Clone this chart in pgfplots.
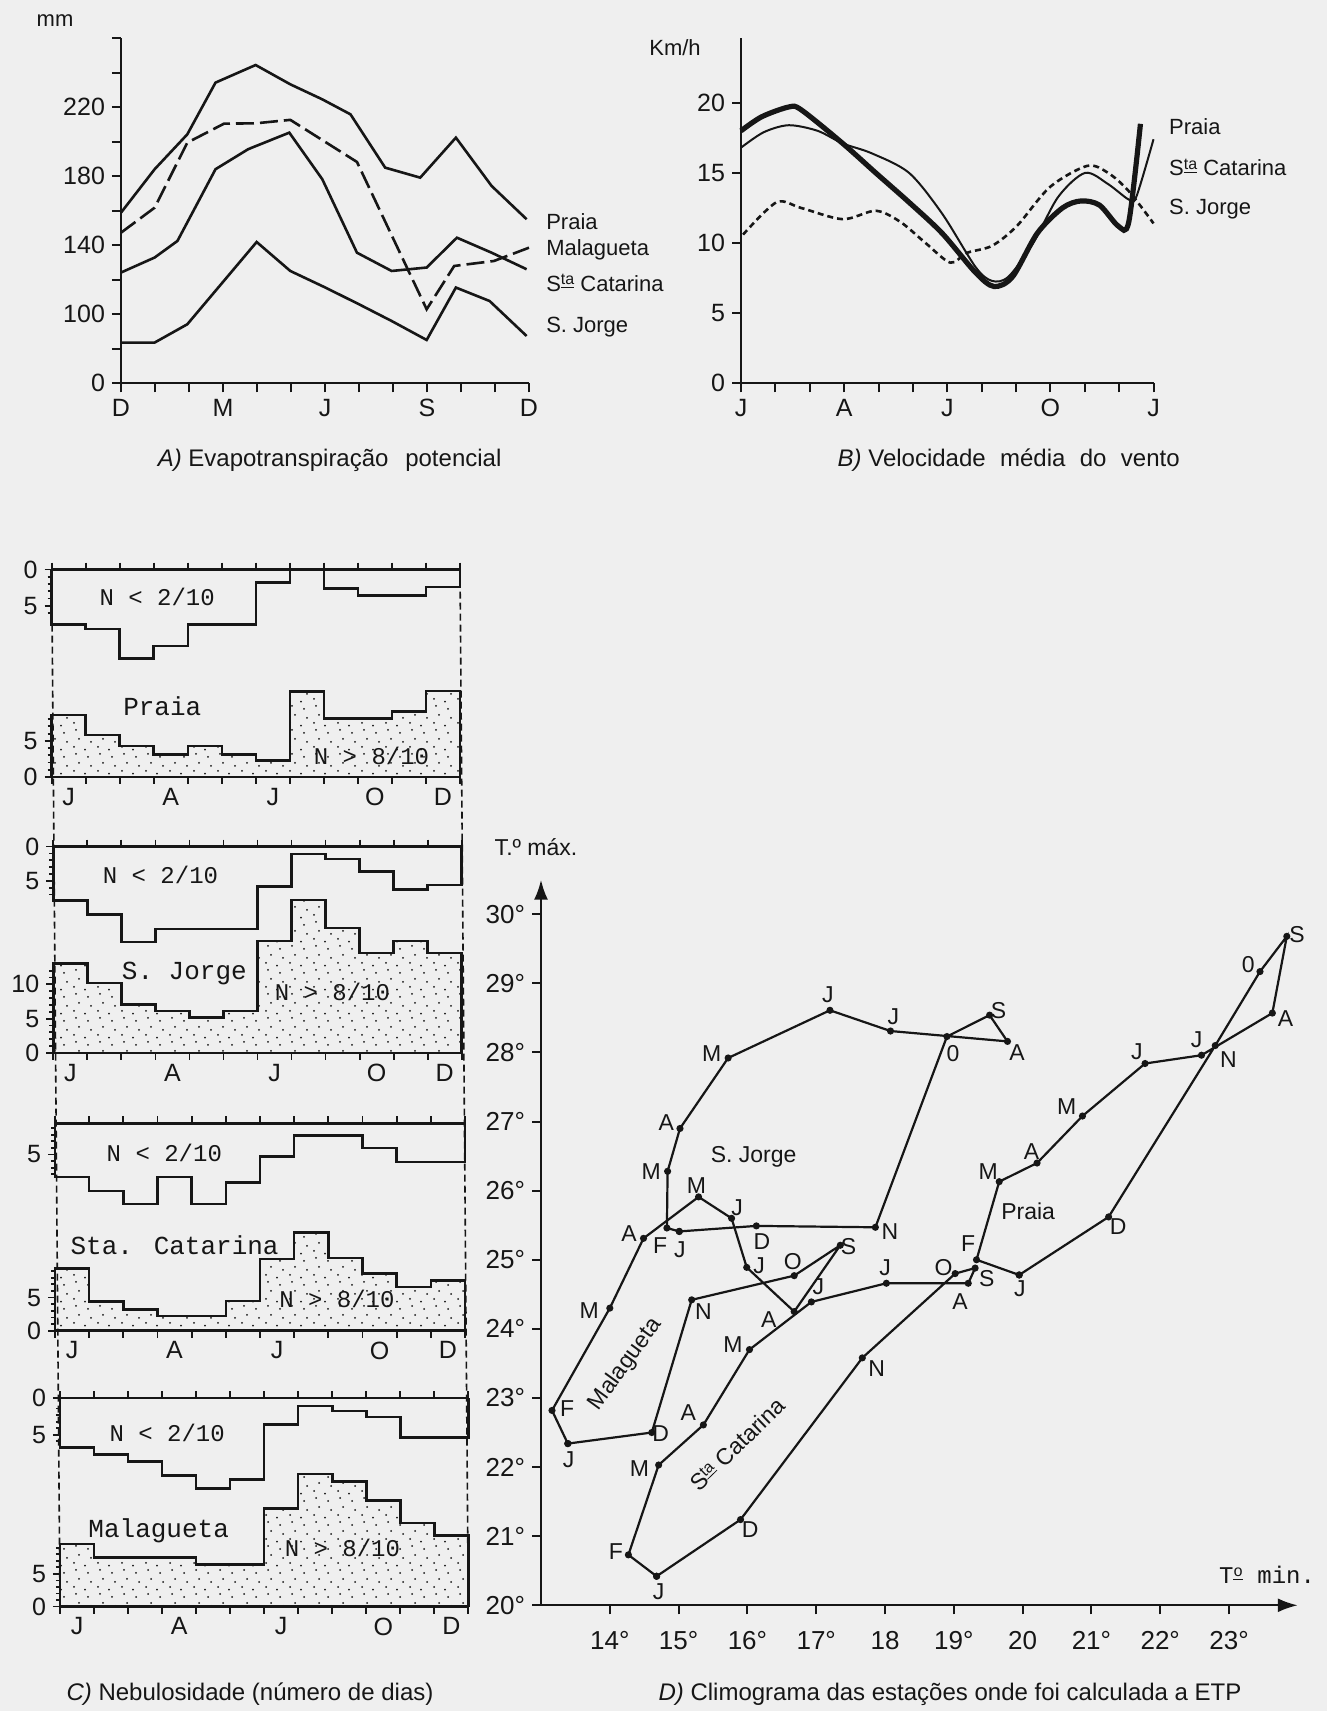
\documentclass[border=0pt]{standalone}
\usepackage{pgfplots}
\pgfplotsset{compat=1.18}
\usepackage{fontspec}
\setmainfont{Liberation Sans}
\newfontfamily\cour{Liberation Mono}
\usetikzlibrary{arrows.meta,patterns}
\definecolor{paper}{RGB}{239,239,239}
\definecolor{ink}{RGB}{22,22,22}

\pgfdeclarepatternformonly{stipple}{\pgfqpoint{-1pt}{-1pt}}{\pgfqpoint{13pt}{13pt}}{\pgfqpoint{12pt}{12pt}}{
  \pgfpathcircle{\pgfqpoint{1pt}{2pt}}{0.5pt}
  \pgfpathcircle{\pgfqpoint{6.5pt}{0.7pt}}{0.5pt}
  \pgfpathcircle{\pgfqpoint{9.5pt}{4.5pt}}{0.5pt}
  \pgfpathcircle{\pgfqpoint{3.5pt}{6pt}}{0.5pt}
  \pgfpathcircle{\pgfqpoint{8pt}{9pt}}{0.5pt}
  \pgfpathcircle{\pgfqpoint{2pt}{10.5pt}}{0.5pt}
  \pgfusepath{fill}
}

\newcommand{\lab}{\fontsize{11}{13}\selectfont}
\newcommand{\tkf}{\fontsize{12.5}{14}\selectfont}
\newcommand{\capf}{\fontsize{12}{14}\selectfont}
\newcommand{\sta}{S\raisebox{0.55ex}{\underline{\fontsize{8}{9}\selectfont ta}}}
\newcommand{\mL}[3]{\node[font=\fontsize{11.5}{12}\selectfont, inner sep=0pt, text=ink] at (axis cs:#1,#2) {#3};}

\pgfplotsset{
  ab/.style={anchor=south west, scale only axis, axis lines=left,
    axis line style={-, line width=1.2pt, ink}, tick align=outside,
    major tick length=4.5pt, tick style={line width=1pt, ink},
    tick label style={font=\tkf, text=ink}, clip=false, enlargelimits=false,
    xmin=0, xmax=12, xtick={0,...,12}, /pgf/number format/assume math mode=true},
  strip/.style={anchor=south west, scale only axis, xmin=0, xmax=12, ymin=0,
    enlargelimits=false, clip=false, separate axis lines,
    every outer x axis line/.append style={line width=1.3pt, ink},
    every outer y axis line/.append style={draw=none},
    xtick={0,...,12}, xticklabels={}, xtick pos=both, ytick pos=left,
    tick align=outside, major tick length=3.5pt, tick style={line width=0.9pt, ink},
    extra x ticks={0.5,3.5,6.5,9.5,11.5}, extra x tick labels={J,A,J,O,D},
    extra x tick style={major tick length=0pt, tick label style={yshift=-2pt}},
    extra y tick style={major tick length=2pt, ytick pos=left},
    extra y tick labels={},
    tick label style={font=\tkf, text=ink}, /pgf/number format/assume math mode=true},
  up/.style={ink, line width=1.3pt, const plot},
  low/.style={ink, line width=1.3pt, const plot, pattern=stipple, pattern color=ink}
}

\begin{document}
\begin{tikzpicture}
\useasboundingbox (0,0) rectangle (663.5pt,855.5pt);
\fill[paper] (0,0) rectangle (663.5pt,855.5pt);

% ---------------- Panel A
\begin{axis}[ab, at={(60.5pt,663.85pt)}, width=204pt, height=172.5pt, ymin=60, ymax=260,
  xticklabels={D,,,M,,,J,,,S,,,D}, ytick={60,80,...,260}, yticklabels={0,,100,,140,,180,,220,,}]
\addplot[ink, line width=1.3pt] coordinates {(0,158.9)(0.99,184.1)(1.95,204.3)(2.78,234.3)(3.96,244.5)(4.98,233.3)(5.92,224.6)(6.75,215.9)(7.77,185)(8.8,179.2)(9.85,202.4)(10.9,174.4)(11.93,155.1)};
\addplot[ink, line width=1.3pt, dash pattern=on 9pt off 3pt] coordinates {(0,147.3)(0.99,161.8)(1.95,199.5)(3.03,210.5)(3.96,210.7)(4.98,212.7)(6.94,188.3)(8.99,102.9)(9.8,128)(10.97,130.9)(12,138.6)};
\addplot[ink, line width=1.3pt] coordinates {(0,124.2)(0.99,132.9)(1.66,142.5)(2.78,184.1)(3.74,195.7)(4.95,205.3)(5.92,178.3)(6.94,135.7)(7.96,125.1)(8.99,127.1)(9.88,144.4)(10.9,135.7)(11.93,126.1)};
\addplot[ink, line width=1.3pt] coordinates {(0,83.6)(0.99,83.6)(1.95,94.2)(3.99,141.9)(4.98,125.1)(6.01,115.5)(7.0,105.8)(7.96,96.1)(8.99,85.1)(9.85,115.5)(10.84,107.7)(11.93,87.4)};
\node[anchor=west, font=\lab, text=ink] at (axis cs:12.3,153.7) {Praia};
\node[anchor=west, font=\lab, text=ink] at (axis cs:12.3,137.3) {Malagueta};
\node[anchor=west, font=\lab, text=ink] at (axis cs:12.3,118.1) {\sta\ Catarina};
\node[anchor=west, font=\lab, text=ink] at (axis cs:12.3,92.8) {S. Jorge};
\end{axis}
\node[font=\lab, text=ink] at (27.5pt,845pt) {mm};
\node[font=\capf, text=ink] at (164.8pt,625.5pt) {\textit{A)} Evapotranspiração\hspace{0.7em}potencial};

% ---------------- Panel B
\begin{axis}[ab, at={(370.5pt,663.85pt)}, width=206.25pt, height=172.5pt, ymin=0, ymax=24.6,
  xticklabels={J,,,A,,,J,,,O,,,J}, ytick={0,5,10,15,20}, yticklabels={0,5,10,15,20}]
\addplot[ink, line width=2.6pt, smooth, tension=0.5] coordinates {(0,18.0)(0.6,19.0)(1.39,19.7)(1.75,19.5)(2.96,17.1)(3.92,15.0)(4.89,12.9)(5.85,10.7)(6.82,7.9)(7.36,6.9)(7.9,7.6)(8.62,10.7)(9.35,12.5)(9.89,13.0)(10.43,12.7)(10.98,11.2)(11.28,11.5)(11.62,18.5)};
\addplot[ink, line width=1.0pt, smooth, tension=0.5] coordinates {(0,16.8)(0.66,17.9)(1.39,18.4)(2.23,18.0)(2.96,17.1)(3.8,16.4)(4.89,15.0)(5.85,12.1)(6.82,8.3)(7.3,7.3)(7.78,7.6)(8.5,10.0)(9.23,13.3)(10.01,15.0)(10.68,14.2)(11.28,13.1)(11.5,13.3)(12,17.4)};
\addplot[ink, line width=1.3pt, smooth, tension=0.5, dash pattern=on 3pt off 2pt] coordinates {(0.06,10.6)(1.03,12.9)(1.75,12.5)(2.96,11.7)(3.92,12.3)(4.64,11.5)(5.37,10.0)(6.09,8.6)(6.57,9.3)(7.3,9.8)(8.02,11.2)(8.99,14.0)(10.07,15.5)(10.68,15.0)(11.28,13.7)(12,11.4)};
\node[anchor=west, font=\lab, text=ink] at (axis cs:12.25,18.3) {Praia};
\node[anchor=west, font=\lab, text=ink] at (axis cs:12.25,15.4) {\sta\ Catarina};
\node[anchor=west, font=\lab, text=ink] at (axis cs:12.25,12.4) {S. Jorge};
\end{axis}
\node[font=\lab, text=ink] at (337.5pt,831.5pt) {Km/h};
\node[font=\capf, text=ink] at (504.35pt,625.5pt) {\textit{B)} Velocidade\hspace{0.6em}média\hspace{0.6em}do\hspace{0.6em}vento};

% ---------------- Panel C
\draw[ink, line width=0.8pt, dash pattern=on 3.5pt off 2pt] (25.85pt,570.7pt) -- (30pt,52.2pt);
\draw[ink, line width=0.8pt, dash pattern=on 3.5pt off 2pt] (230pt,570.7pt) -- (234.15pt,52.2pt);

% Praia
\begin{axis}[strip, at={(25.85pt,467pt)}, width=204.15pt, height=103.7pt, ymax=28.7,
  ytick={0,5,23.7,28.7}, yticklabels={0,5,5,0}, extra y ticks={1,2,3,4,6,7,8,22.7,24.7,25.7,26.7,27.7}]
\addplot[up] coordinates {(0,28.7)(0,21.1)(1,20.5)(2,16.4)(3,18.1)(4,21.1)(5,21.1)(6,26.9)(7,28.7)(8,26.1)(9,25.1)(10,25.1)(11,26.3)(12,26.3)(12,28.7)};
\addplot[low] coordinates {(0,0)(0,8.6)(1,5.8)(2,4.3)(3,3.1)(4,4.3)(5,3.1)(6,2.3)(7,11.8)(8,8.1)(9,8.1)(10,9.1)(11,11.9)(12,11.9)(12,0)};
\node[font=\cour\fontsize{12}{14}\selectfont, text=ink] at (axis cs:3.1,24.9) {N < 2/10};
\node[font=\cour\fontsize{13}{15}\selectfont, text=ink] at (axis cs:3.25,9.8) {Praia};
\node[font=\cour\fontsize{12}{14}\selectfont, text=ink] at (axis cs:9.4,2.9) {N > 8/10};
\end{axis}

% S. Jorge
\begin{axis}[strip, at={(26.65pt,329.05pt)}, width=204.2pt, height=103.15pt, ymax=30.1,
  ytick={0,5,10,25.1,30.1}, yticklabels={0,5,10,5,0}, extra y ticks={1,2,3,4,6,7,8,9,11,12,23.1,24.1,26.1,27.1,28.1,29.1}]
\addplot[up] coordinates {(0,30.1)(0,22.2)(1,20.2)(2,16.2)(3,18.1)(4,18.1)(5,18.1)(6,24.3)(7,29.0)(8,28.3)(9,26.5)(10,23.8)(11,24.5)(12,24.5)(12,30.1)};
\addplot[low] coordinates {(0,0)(0,13.0)(1,10.2)(2,7.1)(3,6.1)(4,5.2)(5,6.1)(6,16.3)(7,22.3)(8,18.2)(9,14.6)(10,16.3)(11,14.6)(12,14.6)(12,0)};
\node[font=\cour\fontsize{12}{14}\selectfont, text=ink] at (axis cs:3.15,25.9) {N < 2/10};
\node[font=\cour\fontsize{13}{15}\selectfont, text=ink] at (axis cs:3.85,11.6) {S. Jorge};
\node[font=\cour\fontsize{12}{14}\selectfont, text=ink] at (axis cs:8.2,8.9) {N > 8/10};
\end{axis}

% Sta Catarina
\begin{axis}[strip, at={(27.5pt,190.15pt)}, width=205pt, height=103.65pt, ymax=31.3,
  ytick={0,5,26.6}, yticklabels={0,5,5}, extra y ticks={1,2,3,4,6,7,8,9,23.6,24.6,25.6,27.6,28.6,29.6,30.6}]
\addplot[up] coordinates {(0,31.3)(0,23.2)(1,21.1)(2,19.1)(3,23.2)(4,19.1)(5,22.4)(6,26.3)(7,29.5)(8,29.5)(9,27.6)(10,25.5)(11,25.5)(12,25.5)(12,31.3)};
\addplot[low] coordinates {(0,0)(0,9.4)(1,4.4)(2,3.2)(3,2.2)(4,2.2)(5,4.5)(6,10.8)(7,14.8)(8,11.0)(9,8.6)(10,6.6)(11,7.6)(12,7.6)(12,0)};
\node[font=\cour\fontsize{12}{14}\selectfont, text=ink] at (axis cs:3.2,26.9) {N < 2/10};
\node[font=\cour\fontsize{13}{15}\selectfont, text=ink] at (axis cs:3.5,12.9) {Sta. Catarina};
\node[font=\cour\fontsize{12}{14}\selectfont, text=ink] at (axis cs:8.25,4.8) {N > 8/10};
\end{axis}

% Malagueta
\begin{axis}[strip, at={(30pt,52.2pt)}, width=204.15pt, height=104.25pt, ymax=31.9,
  ytick={0,5,26.3,31.9}, yticklabels={0,5,5,0}, extra y ticks={1,2,3,4,6,7,8,9,25.3,27.3,28.3,29.3,30.3}]
\addplot[up] coordinates {(0,31.9)(0,24.3)(1,23.3)(2,22.2)(3,20.1)(4,18.1)(5,19.4)(6,27.9)(7,30.7)(8,29.9)(9,29.0)(10,25.9)(11,25.9)(12,25.9)(12,31.9)};
\addplot[low] coordinates {(0,0)(0,9.6)(1,7.5)(2,7.5)(3,7.5)(4,6.4)(5,6.4)(6,15.0)(7,20.3)(8,19.1)(9,16.2)(10,12.8)(11,10.9)(12,10.9)(12,0)};
\node[font=\cour\fontsize{12}{14}\selectfont, text=ink] at (axis cs:3.15,26.6) {N < 2/10};
\node[font=\cour\fontsize{13}{15}\selectfont, text=ink] at (axis cs:2.9,11.6) {Malagueta};
\node[font=\cour\fontsize{12}{14}\selectfont, text=ink] at (axis cs:8.3,9.0) {N > 8/10};
\end{axis}
\node[font=\capf, text=ink] at (125pt,8.5pt) {\textit{C)} Nebulosidade (número de dias)};

% ---------------- Panel D
\begin{axis}[anchor=south west, at={(270.5pt,52.85pt)}, scale only axis, width=378.4pt, height=362.8pt,
  xmin=13, xmax=24, ymin=20, ymax=30.5, enlargelimits=false, axis lines=left,
  axis line style={line width=1.2pt, ink, -{Latex[length=10pt,width=7pt]}},
  tick align=outside, major tick length=4.5pt, tick style={line width=1pt, ink},
  xtick={14,...,23}, xticklabels={14°,15°,16°,17°,18,19°,20,21°,22°,23°},
  ytick={20,...,30}, yticklabels={20°,21°,22°,23°,24°,25°,26°,27°,28°,29°,30°},
  tick label style={font=\fontsize{13}{15}\selectfont, text=ink}, xticklabel style={yshift=-5pt},
  clip=false]
% S. Jorge
\addplot[ink, line width=1.1pt, mark=*, mark size=1.2pt] coordinates {(15.01,25.41)(14.83,25.46)(14.84,26.28)(15.02,26.90)(15.72,27.92)(17.20,28.61)(18.08,28.31)(19.78,28.16)(19.52,28.54)(18.90,28.23)(17.86,25.47)(16.13,25.49)(15.01,25.41)};
% Malagueta
\addplot[ink, line width=1.1pt, mark=*, mark size=1.2pt] coordinates {(13.39,22.34)(13.16,22.82)(14.0,24.30)(14.49,25.31)(15.29,25.91)(15.77,25.60)(15.99,24.89)(16.68,24.25)(17.35,25.21)(16.68,24.77)(15.19,24.42)(14.61,22.50)(13.39,22.34)};
% Sta Catarina
\addplot[ink, line width=1.1pt, mark=*, mark size=1.2pt] coordinates {(14.68,20.42)(14.27,20.73)(14.71,22.03)(15.36,22.61)(16.03,23.70)(16.93,24.39)(18.02,24.66)(19.21,24.66)(19.31,24.88)(19.02,24.80)(17.67,23.58)(15.90,21.24)(14.68,20.42)};
% Praia
\addplot[ink, line width=1.1pt, mark=*, mark size=1.2pt] coordinates {(19.95,24.78)(19.33,25.0)(19.66,26.13)(20.21,26.40)(20.87,27.08)(21.78,27.84)(22.60,27.96)(23.63,28.57)(23.84,29.68)(23.45,29.17)(22.80,28.10)(21.25,25.62)(19.95,24.78)};
% labels S. Jorge
\mL{17.17}{28.83}{J}\mL{18.12}{28.52}{J}\mL{15.48}{27.99}{M}\mL{14.82}{26.98}{A}
\mL{14.60}{26.28}{M}\mL{14.73}{25.21}{F}\mL{15.02}{25.15}{J}\mL{16.21}{25.26}{D}
\mL{18.07}{25.41}{N}\mL{18.99}{27.99}{0}\mL{19.65}{28.61}{S}\mL{19.92}{28.0}{A}
% labels Malagueta
\mL{14.28}{25.38}{A}\mL{15.26}{26.07}{M}\mL{15.85}{25.75}{J}\mL{16.17}{24.92}{J}
\mL{16.31}{24.14}{A}\mL{17.47}{25.19}{S}\mL{16.66}{24.97}{O}\mL{15.36}{24.25}{N}
\mL{14.74}{22.48}{D}\mL{13.40}{22.10}{J}\mL{13.38}{22.84}{F}\mL{13.70}{24.26}{M}
% labels Sta Catarina
\mL{14.71}{20.20}{J}\mL{14.09}{20.78}{F}\mL{14.43}{21.98}{M}\mL{15.14}{22.79}{A}
\mL{15.79}{23.77}{M}\mL{17.03}{24.61}{J}\mL{18.00}{24.88}{J}\mL{19.09}{24.39}{A}
\mL{19.48}{24.73}{S}\mL{18.85}{24.88}{O}\mL{17.88}{23.43}{N}\mL{16.04}{21.09}{D}
% labels Praia
\mL{19.96}{24.58}{J}\mL{19.21}{25.24}{F}\mL{19.50}{26.27}{M}\mL{20.13}{26.56}{A}
\mL{20.64}{27.22}{M}\mL{21.66}{28.01}{J}\mL{22.53}{28.18}{J}\mL{23.82}{28.49}{A}
\mL{23.99}{29.70}{S}\mL{23.28}{29.27}{0}\mL{22.99}{27.89}{N}\mL{21.39}{25.48}{D}
% station names
\node[font=\fontsize{11.5}{13}\selectfont, text=ink] at (axis cs:16.09,26.49) {S. Jorge};
\node[font=\fontsize{11.5}{13}\selectfont, text=ink] at (axis cs:20.08,25.70) {Praia};
\node[font=\fontsize{11.5}{13}\selectfont, text=ink, rotate=54] at (axis cs:14.23,23.49) {Malagueta};
\node[font=\fontsize{11.5}{13}\selectfont, text=ink, rotate=44] at (axis cs:15.85,22.33) {\sta\ Catarina};
\end{axis}
\node[font=\fontsize{11.5}{13}\selectfont, text=ink] at (268pt,432pt) {T.º máx.};
\node[font=\cour\fontsize{12}{14}\selectfont, text=ink] at (633.5pt,68pt) {T\raisebox{0.6ex}{\underline{\fontsize{8}{9}\selectfont o}} min.};
\node[font=\capf, text=ink] at (475pt,8.5pt) {\textit{D)} Climograma das estações onde foi calculada a ETP};
\end{tikzpicture}
\end{document}
